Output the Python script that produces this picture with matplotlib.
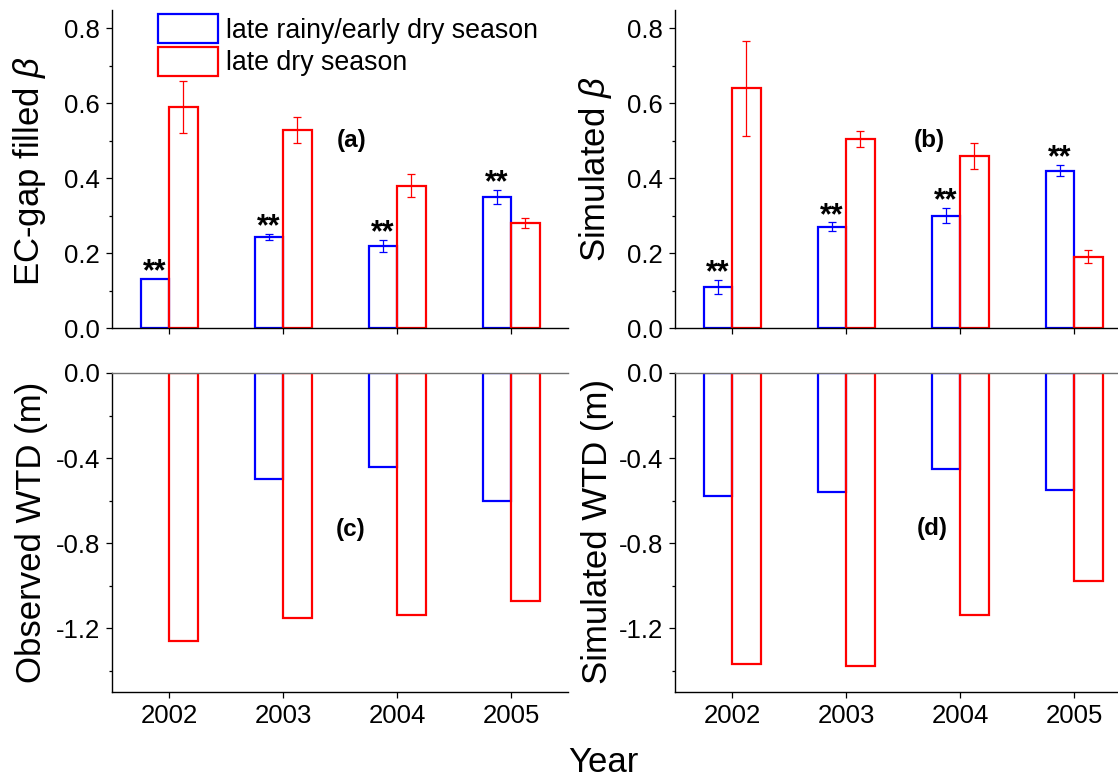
import numpy as np
import matplotlib
matplotlib.use('Agg')
import matplotlib.pyplot as plt
from matplotlib.ticker import MultipleLocator, FormatStrFormatter

plt.rcParams['font.family'] = ['Liberation Sans', 'DejaVu Sans']
plt.rcParams['axes.unicode_minus'] = False
plt.rcParams['mathtext.fontset'] = 'custom'
plt.rcParams['mathtext.rm'] = 'Liberation Sans'
plt.rcParams['mathtext.it'] = 'Liberation Sans:italic'

#-----------------------------------------------------------------------
# Data
years = [2002, 2003, 2004, 2005]
season_labels = ['late rainy/early dry season', 'late dry season']

# (a) EC-gap filled beta
ec_beta_wet = [0.13, 0.243, 0.219, 0.35]
ec_beta_wet_err = [np.nan, 0.009, 0.015, 0.019]
ec_beta_dry = [0.59, 0.528, 0.38, 0.28]
ec_beta_dry_err = [0.07, 0.035, 0.03, 0.013]

# (b) simulated beta
sim_beta_wet = [0.11, 0.27, 0.30, 0.42]
sim_beta_wet_err = [0.018, 0.012, 0.02, 0.015]
sim_beta_dry = [0.64, 0.504, 0.459, 0.19]
sim_beta_dry_err = [0.127, 0.022, 0.035, 0.017]

# (c) observed and (d) simulated water table depth (m)
obs_wtd_wet = [np.nan, -0.50, -0.44, -0.60]
obs_wtd_dry = [-1.26, -1.15, -1.14, -1.07]
sim_wtd_wet = [-0.58, -0.56, -0.45, -0.55]
sim_wtd_dry = [-1.37, -1.38, -1.14, -0.98]

#-----------------------------------------------------------------------
W, H = 1118, 780
BLUE, RED = '#0000ff', '#ff0000'
width = 0.25


def px(left, bottom, right, top):
    """Axes rectangle from pixel edges (origin top-left)."""
    return [left / W, 1 - bottom / H, (right - left) / W, (bottom - top) / H]


def bars(ax, wet, dry, wet_err=None, dry_err=None, stars=False):
    x = np.array(years, dtype=float)
    b1 = ax.bar(x - width / 2, wet, width, facecolor='none', edgecolor=BLUE,
                linewidth=1.6, zorder=2)
    b2 = ax.bar(x + width / 2, dry, width, facecolor='none', edgecolor=RED,
                linewidth=1.6, zorder=2)
    if wet_err is not None:
        ax.errorbar(x - width / 2, wet, yerr=wet_err, fmt='none', ecolor=BLUE,
                    elinewidth=0.9, capsize=2.6, capthick=0.9, zorder=3)
        ax.errorbar(x + width / 2, dry, yerr=dry_err, fmt='none', ecolor=RED,
                    elinewidth=0.9, capsize=2.6, capthick=0.9, zorder=3)
    if stars:
        for xi, v, e in zip(x - width / 2, wet, wet_err):
            top = v + (0 if np.isnan(e) else e)
            ax.annotate('**', (xi, top), xytext=(0, -1), textcoords='offset points',
                        ha='center', va='baseline', fontsize=22, fontweight='bold')
    return b1, b2


def style(ax, top_row):
    ax.set_xlim(2001.5, 2005.5)
    ax.set_xticks(years)
    ax.spines['right'].set_visible(False)
    for s in ['left', 'bottom', 'top']:
        ax.spines[s].set_linewidth(1.0)
    ax.tick_params(axis='both', which='major', direction='out', length=4.5,
                   width=0.9, labelsize=18.5, pad=4)
    ax.tick_params(axis='y', which='minor', direction='out', length=2.5, width=0.9)
    ax.tick_params(axis='x', which='minor', bottom=False)
    ax.yaxis.set_major_formatter(FormatStrFormatter('%.1f'))
    if top_row:
        ax.set_ylim(0, 0.85)
        ax.yaxis.set_major_locator(MultipleLocator(0.2))
        ax.yaxis.set_minor_locator(MultipleLocator(0.1))
        ax.spines['top'].set_visible(False)
        ax.tick_params(axis='x', labelbottom=False)
    else:
        ax.set_ylim(-1.5, 0)
        ax.yaxis.set_major_locator(MultipleLocator(0.4))
        ax.yaxis.set_minor_locator(MultipleLocator(0.2))
        ax.spines['top'].set_color('#707070')


fig = plt.figure(figsize=(W / 100, H / 100), dpi=100)
ax_a = fig.add_axes(px(112, 328, 568, 9.6))
ax_b = fig.add_axes(px(675, 328, 1131, 9.6))
ax_c = fig.add_axes(px(112, 692, 568, 373))
ax_d = fig.add_axes(px(675, 692, 1131, 373))

h1, h2 = bars(ax_a, ec_beta_wet, ec_beta_dry, ec_beta_wet_err, ec_beta_dry_err, stars=True)
bars(ax_b, sim_beta_wet, sim_beta_dry, sim_beta_wet_err, sim_beta_dry_err, stars=True)
bars(ax_c, obs_wtd_wet, obs_wtd_dry)
bars(ax_d, sim_wtd_wet, sim_wtd_dry)

style(ax_a, True)
style(ax_b, True)
style(ax_c, False)
style(ax_d, False)

# Panel tags
for ax, tag, xy in [(ax_a, '(a)', (0.526, 0.59)), (ax_b, '(b)', (0.557, 0.59)),
                    (ax_c, '(c)', (0.524, 0.51)), (ax_d, '(d)', (0.564, 0.513))]:
    ax.text(xy[0], xy[1], tag, transform=ax.transAxes, ha='center', va='center',
            fontsize=17.5, fontweight='bold')

# Axis titles
fig.text(30 / W, 1 - 171 / H, r'EC-gap filled $\beta$', rotation=90,
         ha='center', va='center', fontsize=25)
fig.text(596 / W, 1 - 169 / H, r'Simulated $\beta$', rotation=90,
         ha='center', va='center', fontsize=25)
fig.text(32 / W, 1 - 532 / H, 'Observed WTD (m)', rotation=90,
         ha='center', va='center', fontsize=25)
fig.text(598 / W, 1 - 532 / H, 'Simulated WTD (m)', rotation=90,
         ha='center', va='center', fontsize=25)
fig.text(603 / W, 1 - 763 / H, 'Year', ha='center', va='center', fontsize=25)

ax_a.legend([h1, h2], season_labels, loc='upper left',
            bbox_to_anchor=(158 / W, 1 - 14 / H), bbox_transform=fig.transFigure,
            frameon=False, fontsize=19.3, handlelength=2.24, handleheight=1.29,
            handletextpad=0.3, labelspacing=0.12, borderpad=0, borderaxespad=0)

fig.savefig('out.png', dpi=100)
